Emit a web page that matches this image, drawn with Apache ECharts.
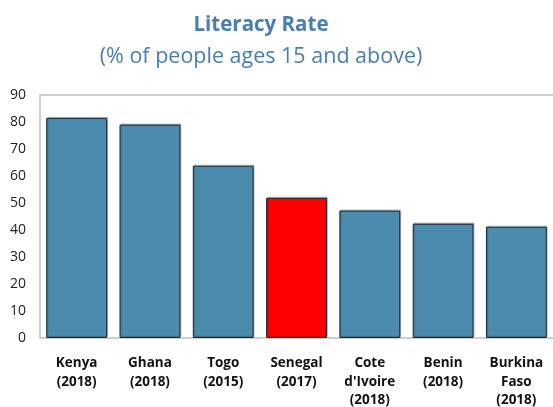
<!DOCTYPE html>
<html>
<head>
<meta charset="utf-8">
<script src="https://cdn.jsdelivr.net/npm/echarts@6/dist/echarts.min.js"></script>
<style>html,body{margin:0;padding:0;background:#fff}#c{width:553px;height:407px}</style>
</head>
<body>
<div id="c"></div>
<script>
var categories = ["Kenya\n(2018)", "Ghana\n(2018)", "Togo\n(2015)", "Senegal\n(2017)", "Cote\nd'Ivoire\n(2018)", "Benin\n(2018)", "Burkina\nFaso\n(2018)"];
var values = [81.5, 79.0, 63.8, 51.9, 47.2, 42.3, 41.2];
var highlight = "Senegal\n(2017)";
var titleText = "Literacy Rate";
var subtitleText = "(% of people ages 15 and above)";

var chart = echarts.init(document.getElementById('c'));
var font = "'Open Sans', 'Noto Sans', sans-serif";
chart.setOption({
  animation: false,
  title: {
    text: titleText,
    subtext: subtitleText,
    left: 256, textAlign: 'center', top: 10,
    itemGap: 10,
    textStyle: { fontFamily: font, fontSize: 20.5, fontWeight: 'bold', color: '#4A7EB0' },
    subtextStyle: { fontFamily: font, fontSize: 21.5, fontWeight: 'normal', color: '#4A7EB0' }
  },
  grid: { left: 40, right: 0, top: 95, bottom: 69, outerBoundsMode: 'none', containLabel: false },
  xAxis: [{
    type: 'category', data: categories,
    axisLine: { lineStyle: { color: '#BFBFBF', width: 1.5 } },
    axisTick: { inside: true, length: 5, lineStyle: { color: '#BFBFBF' } },
    axisLabel: { interval: 0, margin: 16, fontFamily: font, fontSize: 13.5, fontWeight: 'bold', color: '#111', lineHeight: 18.5 }
  }, {
    type: 'category', position: 'top', data: categories,
    axisLine: { lineStyle: { color: '#BFBFBF', width: 1.5 } },
    axisTick: { show: false }, axisLabel: { show: false }
  }],
  yAxis: {
    type: 'value', min: 0, max: 90, interval: 10,
    axisLine: { show: true, lineStyle: { color: '#BFBFBF', width: 1.5 } },
    axisTick: { show: false },
    splitLine: { show: false },
    axisLabel: { margin: 14, fontFamily: font, fontSize: 14, color: '#222' }
  },
  series: [{
    type: 'bar',
    barCategoryGap: '17%',
    data: categories.map(function (c, i) {
      return {
        value: values[i],
        itemStyle: { color: c === highlight ? '#FF0000' : '#4A8BAE' }
      };
    }),
    itemStyle: {
      borderColor: '#1B2A33', borderWidth: 1,
      shadowColor: 'rgba(0,0,0,0.25)', shadowOffsetX: 1, shadowOffsetY: -1, shadowBlur: 1
    }
  }]
});
</script>
</body>
</html>
